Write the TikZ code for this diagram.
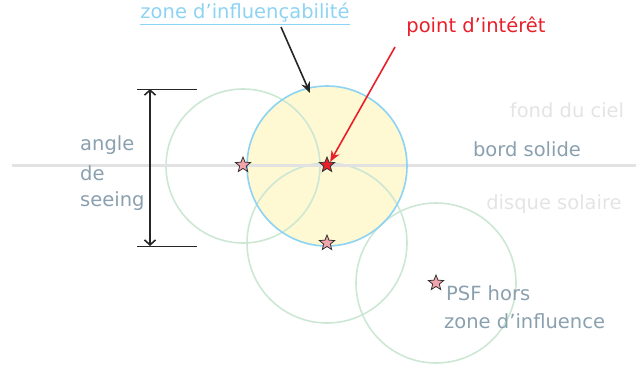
\documentclass[tikz,border=0pt]{standalone}
\usepackage{fontspec}
\setmainfont{DejaVu Sans}
\usetikzlibrary{shapes.geometric,arrows.meta}
\definecolor{skyblue}{HTML}{8DD3F3}
\definecolor{paleyellow}{HTML}{FEF8D3}
\definecolor{palegreen}{HTML}{CCE8D4}
\definecolor{lightgray}{HTML}{E2E2E2}
\definecolor{slate}{HTML}{8AA0AE}
\definecolor{faint}{HTML}{E4E4E4}
\definecolor{redpt}{HTML}{E8202A}
\definecolor{pinkstar}{HTML}{F2A4AC}
\tikzset{
  disc/.style={circle, draw, minimum size=#1, inner sep=0pt, line width=1.6pt},
  psfstar/.style={star, star points=5, star point ratio=2.3, minimum size=16pt, inner sep=0pt, draw=black!80, line width=0.8pt, fill=pinkstar},
  lbl/.style={font=\fontsize{19.5}{23}\selectfont, inner sep=0pt},
  tick/.style={draw=black!85, line width=1pt},
}
\begin{document}
\begin{tikzpicture}[x=1pt,y=-1pt]
\useasboundingbox (0,0) rectangle (636,367);
% circles
\node[disc=160pt, draw=none, fill=paleyellow] (zfill) at (327,166) {};
\node[disc=154pt, draw=palegreen] (cleft) at (243,166) {};
\node[disc=160pt, draw=palegreen] (clow) at (327,243) {};
\node[disc=160pt, draw=palegreen] (cright) at (436,283) {};
% solid edge line
\coordinate (edgeL) at (12,165);
\coordinate (edgeR) at (636,165);
\draw[lightgray, line width=3pt] (edgeL) -- (edgeR);
\node[disc=160pt, draw=skyblue] (zone) at (327,166) {};
% stars
\node[psfstar] (s1) at (243,165) {};
\node[psfstar, fill=redpt] (s0) at (327,165) {};
\node[psfstar] (s2) at (327,243) {};
\node[psfstar] (s3) at (436,283) {};
% seeing dimension
\coordinate (t1a) at (137,89);
\coordinate (t1b) at (197,89);
\coordinate (t2a) at (137,246);
\coordinate (t2b) at (197,246);
\draw[tick] (t1a) -- (t1b);
\draw[tick] (t2a) -- (t2b);
\coordinate (dtop) at (150,89);
\coordinate (dbot) at (150,246);
\draw[black!85, line width=1.6pt, {Straight Barb[length=5pt,width=11pt]}-{Straight Barb[length=5pt,width=11pt]}] (dtop) -- (dbot);
\node[lbl, text=slate, anchor=west] (ang1) at (80,145) {angle};
\node[lbl, text=slate, anchor=west] (ang2) at (80,173) {de};
\node[lbl, text=slate, anchor=west] (ang3) at (80,201) {seeing};
% labels
\node[lbl, text=skyblue] (zlab) at (245,13) {zone d’influençabilité};
\draw[skyblue, line width=1pt] ([yshift=-1.5pt]zlab.south west) -- ([yshift=-1.5pt]zlab.south east);
\coordinate (zarrow) at (310,93);
\draw[black!85, line width=1.6pt, -{Stealth[length=11pt,width=9pt]}] (281,27) -- (zarrow);
\node[lbl, text=redpt] (plab) at (476,27) {point d’intérêt};
\draw[redpt, line width=1.6pt, -{Stealth[length=11pt,width=9pt]}] (395,47) -- (s0.north east);
\node[lbl, text=faint] (ciel) at (567,110) {fond du ciel};
\node[lbl, text=slate] (bord) at (527,149) {bord solide};
\node[lbl, text=faint] (disque) at (554,204) {disque solaire};
\node[lbl, text=slate, anchor=west] (psf1) at (446,293) {PSF hors};
\node[lbl, text=slate, anchor=west] (psf2) at (444,321) {zone d’influence};
\end{tikzpicture}
\end{document}
